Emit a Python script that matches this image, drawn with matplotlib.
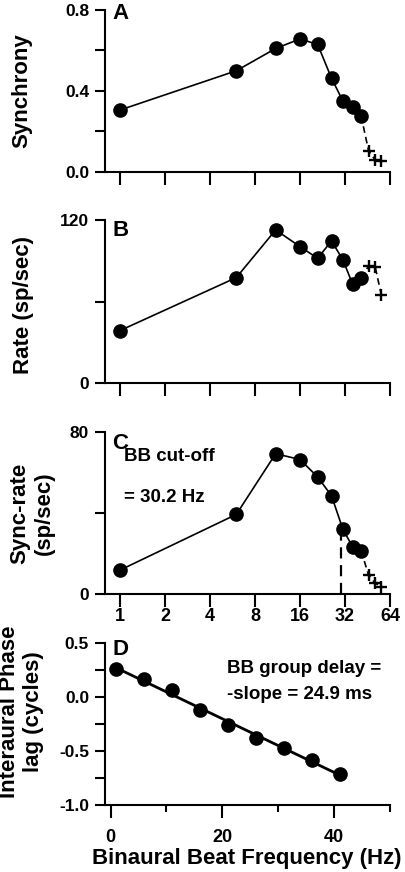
import numpy as np
import matplotlib
matplotlib.use("Agg")
import matplotlib.pyplot as plt

plt.rcParams['font.family'] = ['Liberation Sans', 'DejaVu Sans']
plt.rcParams['font.weight'] = 'bold'

# beat frequencies (Hz)
freq_dots = [1, 6, 11, 16, 21, 26, 31, 36, 41]
freq_plus = [46, 51, 56]

# A: synchrony
sync_dots = [0.306, 0.50, 0.61, 0.657, 0.63, 0.463, 0.35, 0.32, 0.278]
sync_plus = [0.105, 0.059, 0.056]

# B: rate (sp/sec)
rate_dots = [38.6, 77.6, 112.7, 100.4, 91.8, 104.6, 90.6, 72.7, 77.1]
rate_plus = [86.2, 85.2, 64.9]

# C: sync-rate (sp/sec)
srate_dots = [11.8, 39.3, 69.3, 66.4, 57.8, 48.5, 31.9, 23.3, 21.4]
srate_plus = [9.4, 5.3, 3.6]
cutoff = 30.2
cutoff_level = 31.5

# D: interaural phase lag (cycles)
phase_freq = [1, 6, 11, 16, 21, 26, 31, 36, 41]
phase_lag = [0.258, 0.166, 0.067, -0.123, -0.261, -0.384, -0.469, -0.583, -0.709]

log_ticks = [1, 2, 4, 8, 16, 32, 64]

W, H = 405, 872
fig = plt.figure(figsize=(W / 100, H / 100), dpi=100)


def box(top, bottom, left=105, right=390):
    return [left / W, 1 - bottom / H, (right - left) / W, (bottom - top) / H]


def style(ax):
    for s in ['top', 'right']:
        ax.spines[s].set_visible(False)
    for s in ['left', 'bottom']:
        ax.spines[s].set_linewidth(1.5)
    ax.tick_params(axis='y', direction='out', length=7.5, width=1.5,
                   labelsize=12.5, pad=4)
    ax.tick_params(axis='x', direction='out', length=9, width=1.5,
                   labelsize=13)


def log_panel(ax, dots, plus, ymax, yticks, ylabels):
    ax.set_xscale('log', base=2)
    ax.set_xlim(2 ** (-1 / 3), 64)
    ax.set_ylim(0, ymax)
    ax.plot(freq_dots, dots, '-', color='black', lw=1.2, marker='o',
            ms=9.5, mfc='black', mec='black', clip_on=False, zorder=3)
    ax.plot([freq_dots[-1]] + freq_plus, [dots[-1]] + plus, color='black',
            lw=1.2, ls=(0, (4, 2.5)), zorder=2, clip_on=False)
    ax.plot(freq_plus, plus, ls='none', marker='+', ms=8, mew=1.7,
            color='black', clip_on=False, zorder=3)
    ax.set_xticks(log_ticks)
    ax.xaxis.set_minor_locator(matplotlib.ticker.NullLocator())
    ax.set_yticks(yticks)
    ax.set_yticklabels(ylabels)
    style(ax)


axA = fig.add_axes(box(10, 172))
log_panel(axA, sync_dots, sync_plus, 0.8, [0, 0.2, 0.4, 0.6, 0.8],
          ['0.0', '', '0.4', '', '0.8'])
axA.set_xticklabels([])
axA.text(0.025, 0.944, 'A', transform=axA.transAxes, fontsize=16,
         fontweight='bold', va='baseline')

axB = fig.add_axes(box(220, 383))
log_panel(axB, rate_dots, rate_plus, 120, [0, 60, 120], ['0', '', '120'])
axB.set_xticklabels([])
axB.text(0.025, 0.9, 'B', transform=axB.transAxes, fontsize=16,
         fontweight='bold', va='baseline')

axC = fig.add_axes(box(432, 594))
log_panel(axC, srate_dots, srate_plus, 80, [0, 40, 80], ['0', '', '80'])
axC.set_xticklabels([str(t) for t in log_ticks])
axC.tick_params(axis='x', pad=1)
axC.plot([cutoff, cutoff], [0, cutoff_level], color='black', lw=1.6,
         ls=(0, (5, 3)), zorder=1)
axC.text(0.025, 0.898, 'C', transform=axC.transAxes, fontsize=16,
         fontweight='bold', va='baseline')
axC.text(0.065, 0.818, 'BB cut-off', transform=axC.transAxes, fontsize=13.5,
         fontweight='bold', va='baseline')
axC.text(0.065, 0.569, '= 30.2 Hz', transform=axC.transAxes, fontsize=13.5,
         fontweight='bold', va='baseline')

axD = fig.add_axes(box(643, 805))
axD.set_xlim(-1, 50)
axD.set_ylim(-1, 0.5)
slope, icept = np.polyfit(phase_freq, phase_lag, 1)
xfit = np.array([phase_freq[0], phase_freq[-1]])
axD.plot(xfit, slope * xfit + icept, color='black', lw=2, zorder=2)
axD.plot(phase_freq, phase_lag, ls='none', marker='o', ms=9.5,
         color='black', clip_on=False, zorder=3)
axD.set_xticks([0, 20, 40])
axD.set_xticks([10, 30, 50], minor=True)
axD.set_yticks([-1.0, -0.5, 0.0, 0.5])
axD.set_yticklabels(['-1.0', '-0.5', '0.0', '0.5'])
axD.set_yticks([-0.75, -0.25, 0.25], minor=True)
style(axD)
axD.tick_params(axis='x', which='major', pad=8)
axD.tick_params(axis='x', which='minor', length=5, width=1.5)
axD.tick_params(axis='y', which='minor', length=7.5, width=1.5)
axD.text(0.025, 0.925, 'D', transform=axD.transAxes, fontsize=16,
         fontweight='bold', va='baseline')
axD.text(0.427, 0.812, 'BB group delay =', transform=axD.transAxes,
         fontsize=13.5, fontweight='bold', va='baseline')
axD.text(0.427, 0.655, '-slope = 24.9 ms', transform=axD.transAxes,
         fontsize=13.5, fontweight='bold', va='baseline')

# axis labels
lab = dict(fontsize=16, fontweight='bold', rotation=90, ha='center',
           va='center', multialignment='center')
fig.text(22 / W, 1 - 91 / H, 'Synchrony', **lab)
fig.text(24 / W, 1 - 305 / H, 'Rate (sp/sec)', **lab)
fig.text(32 / W, 1 - 513 / H, 'Sync-rate\n(sp/sec)', **lab)
fig.text(21.5 / W, 1 - 712 / H, 'Interaural Phase\nlag (cycles)', **lab)
fig.text(247 / W, 1 - 864 / H, 'Binaural Beat Frequency (Hz)', fontsize=16,
         fontweight='bold', ha='center', va='baseline')

fig.savefig('out.png', dpi=100)
